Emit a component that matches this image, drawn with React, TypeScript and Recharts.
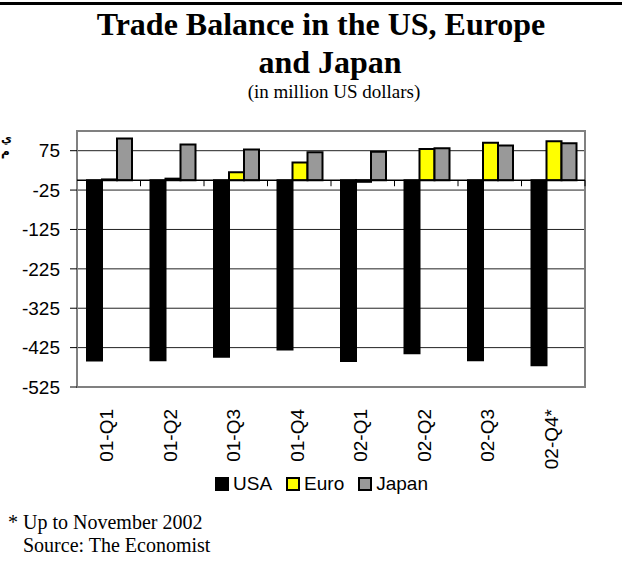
import React from "react";
import { BarChart, Bar, XAxis, YAxis, CartesianGrid, ReferenceLine, ReferenceArea, Legend } from "recharts";

const quarters = ["01-Q1", "01-Q2", "01-Q3", "01-Q4", "02-Q1", "02-Q2", "02-Q3", "02-Q4*"];
const seriesNames = ["USA", "Euro", "Japan"];
const usa = [-458, -457, -448, -430, -459, -439, -457, -470];
const euro = [2, 4, 20, 45, -4, 79, 95, 99];
const japan = [106, 91, 78, 71, 72, 81, 88, 94];
const yTicks = [-525, -425, -325, -225, -125, -25, 75];

const data = quarters.map((q, i) => ({ q, usa: usa[i], euro: euro[i], japan: japan[i] }));

const sans = '"Liberation Sans", Arial, sans-serif';
const serif = '"Liberation Serif", "Times New Roman", serif';

/** Category axis drawn at zero, with tick marks between quarters. */
function ZeroAxis(props: any) {
  const { x1, x2, y1 } = props;
  const step = (x2 - x1) / quarters.length;
  return (
    <g>
      <line x1={x1} x2={x2} y1={y1} y2={y1} stroke="#000" strokeWidth={1.5} />
      {quarters.map((_, i) => (
        <line key={i} x1={x1 + step * (i + 1)} x2={x1 + step * (i + 1)} y1={y1} y2={y1 + 6} stroke="#000" />
      ))}
    </g>
  );
}

function QuarterTick({ x, y, payload }: any) {
  const top = y + 14;
  return (
    <text x={x - 2} y={top} transform={`rotate(-90, ${x - 2}, ${top})`} textAnchor="end" dominantBaseline="central"
      fontSize={19} fontFamily={sans} fill="#000">
      {payload.value}
    </text>
  );
}

function LegendBox({ payload }: any) {
  const items = [...(payload || [])].sort((a: any, b: any) => seriesNames.indexOf(a.value) - seriesNames.indexOf(b.value));
  return (
    <div style={{ display: "flex", alignItems: "center", fontFamily: sans, fontSize: 19 }}>
      {items.map((p: any) => (
        <div key={p.value} style={{ display: "flex", alignItems: "center", marginRight: 14 }}>
          <span style={{ width: 10, height: 10, background: p.color, border: "2px solid #000", marginRight: 4 }} />
          <span>{p.value}</span>
        </div>
      ))}
    </div>
  );
}

export default function App() {
  return (
    <div style={{ position: "absolute", left: 0, top: 0, width: 626, height: 585, background: "#fff", overflow: "hidden" }}>
      <div style={{ position: "absolute", left: 0, top: 2, width: 622, height: 3, background: "#000" }} />
      <div style={{ position: "absolute", left: 0, top: 8, width: 642, textAlign: "center", fontFamily: serif, fontWeight: "bold", fontSize: 32, lineHeight: "32px" }}>
        Trade Balance in the US, Europe
      </div>
      <div style={{ position: "absolute", left: 0, top: 46, width: 660, textAlign: "center", fontFamily: serif, fontWeight: "bold", fontSize: 32, lineHeight: "32px" }}>
        and Japan
      </div>
      <div style={{ position: "absolute", left: 0, top: 82, width: 668, textAlign: "center", fontFamily: serif, fontSize: 19, lineHeight: "19px" }}>
        (in million US dollars)
      </div>
      <div style={{ position: "absolute", left: 1, top: 132, fontFamily: '"DejaVu Sans", sans-serif', fontWeight: "bold", fontSize: 12, lineHeight: "13px" }}>
        <div>ي</div>
        <div>م</div>
      </div>
      <div style={{ position: "absolute", left: 0, top: 0 }}>
        <BarChart width={626} height={585} data={data} margin={{ top: 131, right: 41, left: 0, bottom: 0 }}
          barCategoryGap={10} barGap={0}>
          <CartesianGrid vertical={false} stroke="#222" strokeWidth={1} />
          <ReferenceArea y1={-525} y2={125} fill="none" stroke="#808080" strokeWidth={2} />
          <XAxis dataKey="q" height={198} axisLine={false} tickLine={false} tick={<QuarterTick />} interval={0} />
          <YAxis width={77} domain={[-525, 125]} ticks={yTicks} interval={0} allowDataOverflow
            axisLine={false} tickLine={{ stroke: "#000" }} tickSize={7} tickMargin={10}
            tick={{ fontSize: 19, fontFamily: sans, fill: "#000" }} />
          <Bar dataKey="usa" name="USA" fill="#000" stroke="#000" strokeWidth={2} isAnimationActive={false} />
          <Bar dataKey="euro" name="Euro" fill="#ffff00" stroke="#000" strokeWidth={2} isAnimationActive={false} />
          <Bar dataKey="japan" name="Japan" fill="#999999" stroke="#000" strokeWidth={2} isAnimationActive={false} />
          <ReferenceLine y={0} shape={<ZeroAxis />} />
          <Legend layout="horizontal" verticalAlign="middle" align="center" content={<LegendBox />}
            wrapperStyle={{ position: "absolute", top: 473, left: 215, width: "auto" }} />
        </BarChart>
      </div>
      <div style={{ position: "absolute", left: 8, top: 512, fontFamily: serif, fontSize: 20, lineHeight: "20px", whiteSpace: "pre" }}>
        * Up to November 2002
      </div>
      <div style={{ position: "absolute", left: 23, top: 535, fontFamily: serif, fontSize: 20, lineHeight: "20px" }}>
        Source: The Economist
      </div>
    </div>
  );
}
